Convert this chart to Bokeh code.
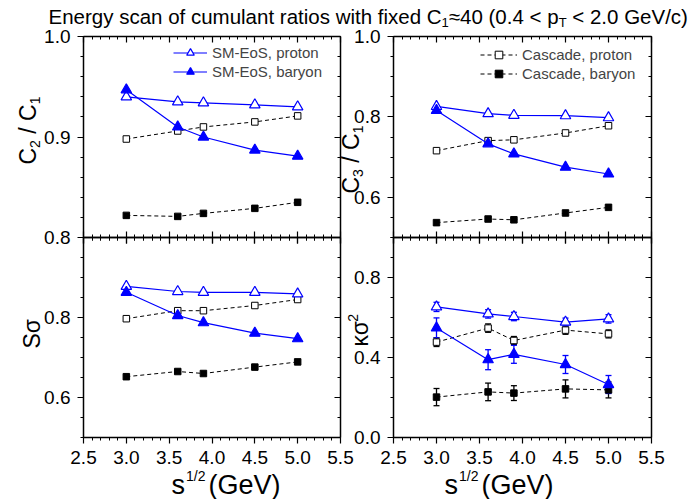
import math
from bokeh.plotting import figure
from bokeh.models import (Range1d, LinearAxis, FixedTicker, Label, Legend, LegendItem,
                          Whisker, TeeHead, ColumnDataSource, PrintfTickFormatter)
from bokeh.embed import file_html
from bokeh.resources import INLINE

# ---------------- data ----------------
energy = [3.0, 3.6, 3.9, 4.5, 5.0]

c2c1_sm_proton = [0.940, 0.935, 0.934, 0.932, 0.930]
c2c1_sm_baryon = [0.947, 0.910, 0.900, 0.887, 0.881]
c2c1_cas_proton = [0.898, 0.906, 0.910, 0.915, 0.921]
c2c1_cas_baryon = [0.822, 0.821, 0.824, 0.829, 0.835]

c3c1_sm_proton = [0.826, 0.808, 0.804, 0.803, 0.798]
c3c1_sm_baryon = [0.816, 0.733, 0.708, 0.675, 0.658]
c3c1_cas_proton = [0.716, 0.741, 0.743, 0.760, 0.778]
c3c1_cas_baryon = [0.537, 0.546, 0.544, 0.561, 0.575]

ssig_sm_proton = [0.878, 0.865, 0.863, 0.863, 0.859]
ssig_sm_baryon = [0.863, 0.805, 0.787, 0.761, 0.747]
ssig_cas_proton = [0.797, 0.817, 0.817, 0.830, 0.845]
ssig_cas_baryon = [0.652, 0.665, 0.660, 0.676, 0.689]

ksig_sm_proton = [0.653, 0.618, 0.605, 0.577, 0.593]
ksig_sm_proton_err = [0.023, 0.021, 0.021, 0.020, 0.021]
ksig_sm_baryon = [0.548, 0.389, 0.416, 0.365, 0.265]
ksig_sm_baryon_err = [0.050, 0.050, 0.045, 0.045, 0.045]
ksig_cas_proton = [0.477, 0.547, 0.485, 0.537, 0.518]
ksig_cas_proton_err = [0.022, 0.021, 0.020, 0.021, 0.020]
ksig_cas_baryon = [0.202, 0.228, 0.222, 0.243, 0.238]
ksig_cas_baryon_err = [0.043, 0.044, 0.037, 0.045, 0.040]

x_ticks = [2.5, 3.0, 3.5, 4.0, 4.5, 5.0, 5.5]
x_minor = [round(2.5 + 0.1 * i, 2) for i in range(31)]
tl_ticks = [0.8, 0.9, 1.0]
tl_minor = [round(0.8 + 0.02 * i, 3) for i in range(11)]
tr_ticks = [0.6, 0.8, 1.0]
tr_minor = [round(0.5 + 0.05 * i, 3) for i in range(11)]
bl_ticks = [0.6, 0.8]
bl_minor = [round(0.5 + 0.05 * i, 3) for i in range(11)]
br_ticks = [0.0, 0.4, 0.8]
br_minor = [round(0.1 * i, 2) for i in range(11)]

legend_sm = ["SM-EoS, proton", "SM-EoS, baryon"]
legend_cas = ["Cascade, proton", "Cascade, baryon"]

# ---------------- geometry (canvas pixels) ----------------
W, H = 700, 499
FL, FR, FT, FB = 0, W, 0, H          # the plotting frame fills the canvas
LX = (83, 340)
RX = (393, 651)
TY = (36, 237)
BY = (237, 437)
BLUE = "#0000ff"
FONT = "Liberation Sans"
BASE_CORR = 0.22   # empirical baseline correction (em)


def xrange_for(p0, p1, v0, v1):
    k = (v1 - v0) / (p1 - p0)
    return Range1d(start=v0 + (FL - p0) * k, end=v0 + (FR - p0) * k)


def yrange_for(ptop, pbot, vbot, vtop):
    k = (vtop - vbot) / (pbot - ptop)
    return Range1d(start=vbot - (FB - pbot) * k, end=vtop + (ptop - FT) * k)


p = figure(width=W, height=H, output_backend="svg", toolbar_location=None,
           x_range=xrange_for(LX[0], LX[1], 2.5, 5.5),
           y_range=yrange_for(TY[0], TY[1], 0.8, 1.0),
           x_axis_type=None, y_axis_type=None,
           min_border_left=0, min_border_right=0,
           min_border_top=0, min_border_bottom=0)
p.extra_x_ranges = {"xr": xrange_for(RX[0], RX[1], 2.5, 5.5)}
p.extra_y_ranges = {
    "tr": yrange_for(TY[0], TY[1], 0.5, 1.0),
    "bl": yrange_for(BY[0], BY[1], 0.5, 1.0),
    "br": yrange_for(BY[0], BY[1], 0.0, 1.0),
}
p.outline_line_color = None
p.background_fill_color = "white"
p.border_fill_color = "white"


def style_axis(ax, tin, tout, labels):
    ax.axis_line_color = "black"
    ax.axis_line_width = 1.5
    ax.major_tick_line_color = "black"
    ax.minor_tick_line_color = "black"
    ax.major_tick_line_width = 1.2
    ax.minor_tick_line_width = 1.0
    ax.major_tick_in = tin
    ax.major_tick_out = tout
    ax.minor_tick_in = int(round(tin * 0.55))
    ax.minor_tick_out = int(round(tout * 0.55))
    ax.major_label_text_font = FONT
    ax.major_label_text_font_size = "19px"
    ax.major_label_text_color = "black" if labels else None
    ax.major_label_standoff = 7
    ax.formatter = PrintfTickFormatter(format="%.1f")


def add_panel(xname, yname, yb, yticks, yminor, xlabels, top_row):
    ax = LinearAxis(x_range_name=xname, y_range_name=yname, fixed_location=2.5, bounds=yb,
                    ticker=FixedTicker(ticks=yticks, minor_ticks=yminor))
    style_axis(ax, 0, 6, True)
    p.add_layout(ax, "left")
    ax = LinearAxis(x_range_name=xname, y_range_name=yname, fixed_location=5.5, bounds=yb,
                    ticker=FixedTicker(ticks=yticks, minor_ticks=yminor))
    style_axis(ax, 6, 0, False)
    p.add_layout(ax, "right")
    ax = LinearAxis(x_range_name=xname, y_range_name=yname, fixed_location=yb[0], bounds=(2.5, 5.5),
                    ticker=FixedTicker(ticks=x_ticks, minor_ticks=x_minor))
    style_axis(ax, 6 if top_row else 0, 6, xlabels)
    p.add_layout(ax, "below")
    ax = LinearAxis(x_range_name=xname, y_range_name=yname, fixed_location=yb[1], bounds=(2.5, 5.5),
                    ticker=FixedTicker(ticks=x_ticks, minor_ticks=x_minor))
    style_axis(ax, 6, 0, False)
    p.add_layout(ax, "above")


add_panel("default", "default", (0.8, 1.0), tl_ticks, tl_minor, False, True)
add_panel("xr", "tr", (0.5, 1.0), tr_ticks, tr_minor, False, True)
add_panel("default", "bl", (0.5, 1.0), bl_ticks, bl_minor, True, False)
add_panel("xr", "br", (0.0, 1.0), br_ticks, br_minor, True, False)


def draw_series(xname, yname, ys, kind):
    kw = dict(x_range_name=xname, y_range_name=yname)
    if kind.startswith("sm"):
        ln = p.line(energy, ys, line_color=BLUE, line_width=1.2, **kw)
        fill = "white" if kind == "sm_p" else BLUE
        sc = p.scatter(energy, ys, marker="triangle", size=10.5, line_color=BLUE,
                       fill_color=fill, line_width=1.2, **kw)
    else:
        ln = p.line(energy, ys, line_color="black", line_width=1.0, line_dash="4 3", **kw)
        fill = "white" if kind == "cas_p" else "black"
        sc = p.scatter(energy, ys, marker="square", size=6.5, line_color="black",
                       fill_color=fill, line_width=1.0, **kw)
    return ln, sc


def draw_errors(xname, yname, ys, errs, color):
    src = ColumnDataSource(dict(x=energy,
                                lower=[y - e for y, e in zip(ys, errs)],
                                upper=[y + e for y, e in zip(ys, errs)]))
    w = Whisker(base="x", lower="lower", upper="upper", source=src, dimension="height",
                line_color=color, line_width=1.3,
                upper_head=TeeHead(size=6, line_color=color, line_width=1.3),
                lower_head=TeeHead(size=6, line_color=color, line_width=1.3),
                x_range_name=xname, y_range_name=yname)
    p.add_layout(w)


panels = [
    ("default", "default", c2c1_sm_proton, c2c1_sm_baryon, c2c1_cas_proton, c2c1_cas_baryon),
    ("xr", "tr", c3c1_sm_proton, c3c1_sm_baryon, c3c1_cas_proton, c3c1_cas_baryon),
    ("default", "bl", ssig_sm_proton, ssig_sm_baryon, ssig_cas_proton, ssig_cas_baryon),
    ("xr", "br", ksig_sm_proton, ksig_sm_baryon, ksig_cas_proton, ksig_cas_baryon),
]

draw_errors("xr", "br", ksig_cas_proton, ksig_cas_proton_err, "black")
draw_errors("xr", "br", ksig_cas_baryon, ksig_cas_baryon_err, "black")
draw_errors("xr", "br", ksig_sm_proton, ksig_sm_proton_err, BLUE)
draw_errors("xr", "br", ksig_sm_baryon, ksig_sm_baryon_err, BLUE)

handles = {}
for i, (xn, yn, smp, smb, cp, cb) in enumerate(panels):
    h_cp = draw_series(xn, yn, cp, "cas_p")
    h_cb = draw_series(xn, yn, cb, "cas_b")
    h_sp = draw_series(xn, yn, smp, "sm_p")
    h_sb = draw_series(xn, yn, smb, "sm_b")
    if i == 0:
        handles["sm"] = (h_sp, h_sb)
    if i == 1:
        handles["cas"] = (h_cp, h_cb)


def make_legend(labels, hs, left_px, bottom_px, gw):
    lg = Legend(items=[LegendItem(label=lab, renderers=list(h)) for lab, h in zip(labels, hs)],
                location=(left_px - FL, FB - bottom_px),
                glyph_width=gw, glyph_height=19, label_height=19, label_standoff=5,
                spacing=0, padding=0, margin=0, border_line_color=None,
                background_fill_alpha=0, label_text_font=FONT,
                label_text_font_size="15px", label_text_baseline="middle")
    p.add_layout(lg, "center")


make_legend(legend_sm, handles["sm"], 173, 81, 34)
make_legend(legend_cas, handles["cas"], 480, 83, 37)

# ---------------- texts ----------------
AW = {' ': 278, '(': 333, ')': 333, '.': 278, '/': 278, '<': 584, '≈': 549,
      '0': 556, '1': 556, '2': 556, '3': 556, '4': 556, '5': 556,
      'C': 722, 'E': 667, 'G': 778, 'V': 667, 'T': 611, 'S': 667,
      'a': 556, 'c': 500, 'd': 556, 'e': 556, 'f': 278, 'g': 556, 'h': 556, 'i': 222,
      'l': 222, 'm': 833, 'n': 556, 'o': 556, 'p': 556, 'r': 333, 's': 500, 't': 278,
      'u': 556, 'w': 722, 'x': 500, 'y': 500, 'σ': 571, 'κ': 500}


def tw(s, fs):
    return sum(AW.get(c, 556) for c in s) / 1000.0 * fs


def add_text(text, sx, sy, fs, angle=0.0):
    p.add_layout(Label(x=sx - FL, y=FB - sy, x_units="screen", y_units="screen", text=text,
                       text_font=FONT, text_font_size=f"{fs}px", angle=angle,
                       text_align="left", text_baseline="alphabetic", text_color="black"))


def rich(parts, sx, sy, rotated=False):
    """parts: (text, font size, baseline shift (down = +), gap before)."""
    pos = 0.0
    for text, fs, shift, gap in parts:
        pos += gap
        d = shift - BASE_CORR * fs
        if rotated:
            add_text(text, sx + d, sy - pos, fs, angle=math.pi / 2)
        else:
            add_text(text, sx + pos, sy + d, fs)
        pos += tw(text, fs)


TF = 20.5
TS = 13
rich([("Energy scan of cumulant ratios with fixed C", TF, 0, 0),
      ("1", TS, 4, 0),
      ("≈40 (0.4 < p", TF, 0, 0),
      ("T", TS, 4, 0),
      ("< 2.0 GeV/c)", TF, 0, tw(" ", TF))], 48, 21)

YF = 23
YS = 14
rich([("C", YF, 0, 0), ("2", YS, 5, 0), ("/", YF, 0, tw(" ", YF)),
      ("C", YF, 0, tw(" ", YF)), ("1", YS, 5, 0)], 33, 164, rotated=True)
rich([("C", YF, 0, 0), ("3", YS, 5, 0), ("/", YF, 0, tw(" ", YF)),
      ("C", YF, 0, tw(" ", YF)), ("1", YS, 5, 0)], 356, 193, rotated=True)
rich([("Sσ", YF, 0, 0)], 37, 348, rotated=True)
rich([("κσ", YF, 0, 0), ("2", YS, -9, 0)], 365, 346, rotated=True)

XF = 27
XS = 14
for x0 in (171, 444):
    rich([("s", XF, 0, 0), ("1/2", XS, -11, 1.0),
          ("(GeV)", XF, 0, 37 - tw("s", XF) - 1.0 - tw("1/2", XS))], x0, 490)

open("out.html", "w").write(file_html(p, INLINE))
